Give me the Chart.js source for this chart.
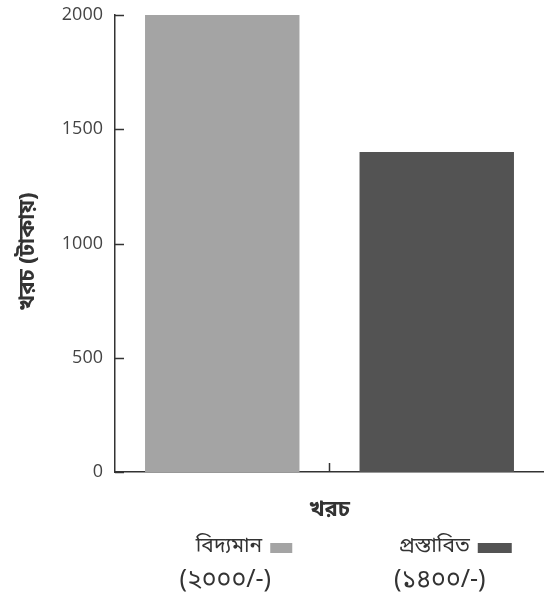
<!DOCTYPE html>
<html>
<head>
<meta charset="utf-8">
<script src="https://cdn.jsdelivr.net/npm/chart.js@4"></script>
<style>
    html, body { margin: 0; padding: 0; background: #fff; }
    #wrap { width: 544px; height: 609px; }
</style>
</head>
<body>
<div id="wrap"><canvas id="grafico"></canvas></div>
<script>

const categorias = ["বিদ্যমান", "প্রস্তাবিত"];
const valores = [2000, 1400];
const etiquetasValor = ["(২০০০/-)", "(১৪০০/-)"];
const ticksY = [0, 500, 1000, 1500, 2000];
const tituloY = "খরচ (টাকায়)";
const tituloX = "খরচ";

const colores = ["#a4a4a4", "#535353"];
const fuenteBn = "'Noto Sans Bengali', 'Noto Sans', sans-serif";

// ticks hacia dentro, titulos y leyenda debajo
const dibujoExtra = {
    id: "dibujoExtra",
    afterDraw(chart){
        const ctx = chart.ctx;
        const x = chart.scales.x;
        const y = chart.scales.y;
        const area = chart.chartArea;

        ctx.save();
        ctx.strokeStyle = "#333";
        ctx.lineWidth = 1.5;

        ticksY.forEach(v => {
            const py = Math.round(y.getPixelForValue(v)) + 0.5;
            ctx.beginPath();
            ctx.moveTo(area.left, py);
            ctx.lineTo(area.left + 9, py);
            ctx.stroke();
        });

        // tick entre categorias
        const mid = (x.getPixelForValue(0) + x.getPixelForValue(1)) / 2;
        ctx.beginPath();
        ctx.moveTo(mid, area.bottom);
        ctx.lineTo(mid, area.bottom - 9);
        ctx.stroke();

        // titulo Y
        ctx.fillStyle = "#333";
        ctx.font = "bold 22px " + fuenteBn;
        ctx.textAlign = "center";
        ctx.textBaseline = "middle";
        ctx.save();
        ctx.translate(30, (area.top + area.bottom) / 2 + 8);
        ctx.rotate(-Math.PI / 2);
        ctx.fillText(tituloY, 0, 0);
        ctx.restore();

        // titulo X
        ctx.fillText(tituloX, (area.left + area.right) / 2, 512);

        // leyenda
        const ajustes = [
            { fin: 40, sw: 22 },
            { fin: 33, sw: 34 }
        ];
        categorias.forEach((c, i) => {
            const cx = x.getPixelForValue(i);
            ctx.font = "21px " + fuenteBn;
            ctx.textAlign = "right";
            ctx.fillStyle = "#333";
            ctx.fillText(c, cx + ajustes[i].fin, 548);
            ctx.fillStyle = colores[i];
            ctx.fillRect(cx + ajustes[i].fin + 8, 543, ajustes[i].sw, 10);

            ctx.fillStyle = "#333";
            ctx.textAlign = "center";
            ctx.font = "25px " + fuenteBn;
            ctx.fillText(etiquetasValor[i], cx + 3, 582);
        });

        ctx.restore();
    }
};

new Chart(

    document.getElementById(
        "grafico"
    ),

    {

        type:"bar",

        data:{

            labels:
            categorias,

            datasets:[{

                data:
                valores,

                backgroundColor:
                colores,

                barPercentage:0.72,

                categoryPercentage:1

            }]

        },

        options:{

            responsive:true,

            maintainAspectRatio:false,

            animation:false,

            layout:{
                padding:{ top:15, right:0, bottom:0, left:0 }
            },

            plugins:{
                legend:{ display:false },
                tooltip:{ enabled:false }
            },

            scales:{

                x:{
                    offset:true,
                    grid:{ display:false },
                    border:{ color:"#333", width:1.5 },
                    ticks:{ display:false },
                    afterFit(s){ s.height = 137; }
                },

                y:{
                    min:0,
                    max:2000,
                    afterBuildTicks(s){
                        s.ticks = ticksY.map(v => ({ value:v }));
                    },
                    grid:{ display:false },
                    border:{ color:"#333", width:1.5 },
                    ticks:{
                        color:"#444",
                        padding:4,
                        font:{ family:"'Open Sans', sans-serif", size:18 },
                        callback:v => String(v)
                    },
                    afterFit(s){ s.width = 115; }
                }

            }

        },

        plugins:[dibujoExtra]

    }

);

</script>
</body>
</html>
